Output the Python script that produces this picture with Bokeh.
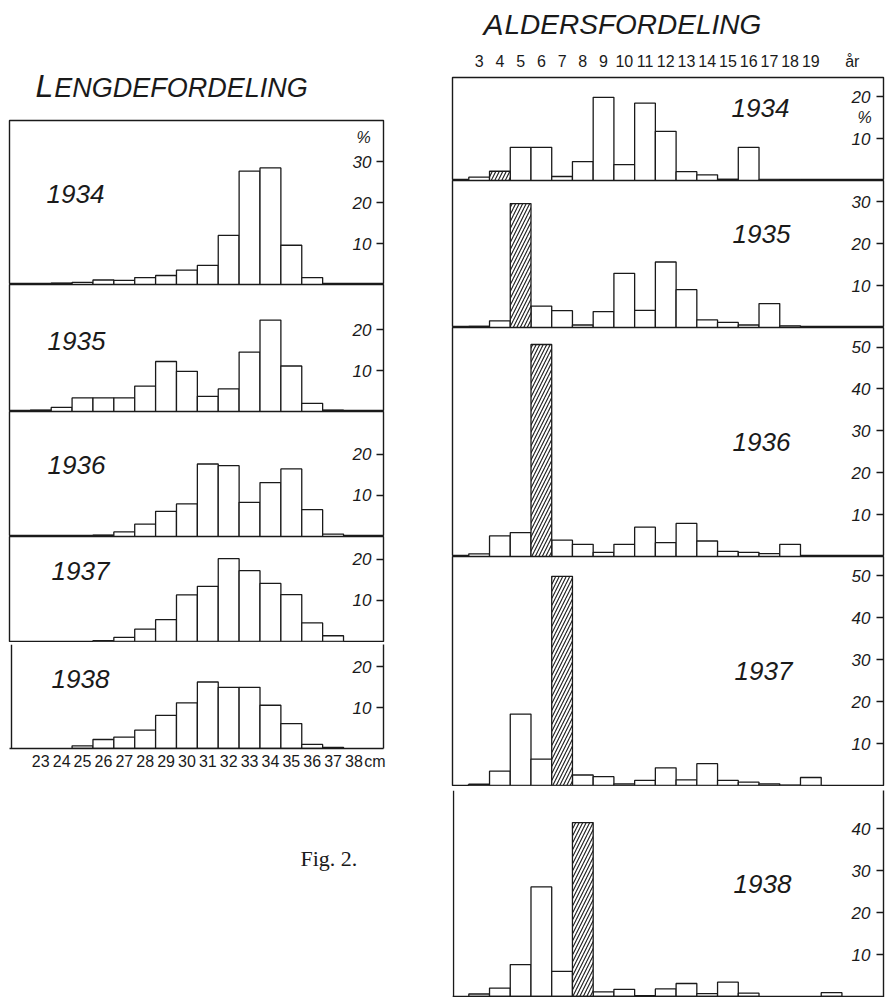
from bokeh.plotting import figure
from bokeh.layouts import column, row
from bokeh.models import Range1d, FixedTicker, LinearAxis, Span, ColumnDataSource
from bokeh.embed import file_html
from bokeh.resources import INLINE
from bokeh.core.properties import value

# ---------------- data (percent) ----------------
years = [1934, 1935, 1936, 1937, 1938]
year_class = 1930  # hatched bars: the strong 1930 year class

length_cm = list(range(23, 39))
length_1934 = [0.0, 0.3, 0.5, 1.1, 1.0, 1.7, 2.2, 3.5, 4.7, 12.0, 27.7, 28.5, 9.6, 1.7, 0.0, 0.0]
length_1935 = [0.3, 1.0, 3.3, 3.3, 3.3, 6.2, 12.2, 9.8, 3.7, 5.5, 14.5, 22.3, 11.1, 2.0, 0.3, 0.0]
length_1936 = [0.0, 0.0, 0.0, 0.3, 1.1, 3.0, 6.1, 7.9, 17.6, 17.2, 8.3, 13.1, 16.4, 6.5, 0.6, 0.0]
length_1937 = [0.0, 0.0, 0.0, 0.2, 1.0, 3.0, 5.3, 11.3, 13.4, 20.1, 17.2, 14.1, 11.4, 4.5, 1.4, 0.0]
length_1938 = [0.0, 0.0, 0.65, 2.2, 2.8, 4.5, 8.1, 11.2, 16.3, 15.0, 15.0, 10.6, 6.1, 1.0, 0.3, 0.0]

age_years = list(range(3, 21))
age_1934 = [0.8, 2.2, 7.9, 7.9, 0.95, 4.5, 19.8, 3.8, 18.4, 11.7, 2.1, 1.35, 0.25, 7.9, 0.15, 0.2, 0.0, 0.0]
age_1935 = [0.25, 1.6, 29.5, 5.1, 4.0, 0.6, 3.8, 12.9, 4.1, 15.6, 9.0, 1.8, 1.2, 0.6, 5.7, 0.4, 0.0, 0.0]
age_1936 = [0.65, 4.9, 5.7, 50.6, 3.9, 2.9, 1.0, 2.9, 7.0, 3.3, 7.9, 3.7, 1.2, 1.0, 0.7, 2.9, 0.0, 0.0]
age_1937 = [0.3, 3.4, 17.0, 6.3, 49.8, 2.5, 2.1, 0.4, 1.2, 4.2, 1.35, 5.2, 1.2, 0.8, 0.4, 0.1, 1.9, 0.0]
age_1938 = [0.6, 2.0, 7.6, 26.1, 6.0, 41.4, 1.1, 1.7, 0.2, 1.8, 3.1, 0.7, 3.4, 0.8, 0.0, 0.0, 0.0, 0.9]

length_series = [length_1934, length_1935, length_1936, length_1937, length_1938]
age_series = [age_1934, age_1935, age_1936, age_1937, age_1938]

length_tick_values = list(range(23, 40))
length_tick_labels = [str(c) for c in range(23, 39)] + ["cm"]
age_tick_values = list(range(3, 20)) + [21]
age_tick_labels = [str(a) for a in range(3, 20)] + ["år"]
length_pct_ticks = [[10, 20, 30], [10, 20], [10, 20], [10, 20], [10, 20]]
age_pct_ticks = [[10, 20], [10, 20, 30], [10, 20, 30, 40, 50], [10, 20, 30, 40, 50], [10, 20, 30, 40]]

left_title = "LENGDEFORDELING"
right_title = "ALDERSFORDELING"
fig_caption = "Fig. 2."

# ---------------- styling / layout ----------------
INK = "#1a1a1a"
FONT = "Liberation Sans"

# page-pixel calibration of the two horizontal scales
def lx(px):          # left chart: page x -> cm
    return 23.5 + (px - 50.7) / 20.88

def ax(px):          # right chart: page x -> age
    return 2.5 + (px - 468.3) / 20.73

# frame extents (page px); Bokeh aligns frames within a column
L_X0, L_X1 = 9, 383
R_X0, R_X1 = 452, 883
LW, RW = 444, 448
RIGHT_COL_X = 444

left_geom = [
    dict(top=120, bottom=284, base=284, s=4.09, bt=1, bb=0),
    dict(top=284, bottom=411, base=411, s=4.10, bt=0, bb=0),
    dict(top=411, bottom=536, base=536, s=4.12, bt=0, bb=0),
    dict(top=536, bottom=641, base=641, s=4.12, bt=0, bb=1),
    dict(top=644, bottom=748, base=748, s=4.08, bt=2, bb=26),
]
right_geom = [
    dict(top=77, bottom=180, base=180, s=4.20, bt=32, bb=0),
    dict(top=180, bottom=327, base=327, s=4.20, bt=0, bb=0),
    dict(top=327, bottom=556, base=556, s=4.19, bt=0, bb=0),
    dict(top=556, bottom=785, base=785, s=4.20, bt=0, bb=1),
    dict(top=790, bottom=997, base=996, s=4.20, bt=4, bb=0),
]
left_year_pos = [(75, 193), (76, 340), (76, 464), (80, 570), (80, 678)]
right_year_pos = [(760, 107), (761, 233), (761, 441), (763, 670), (762, 883)]


def base_fig(w, h, xr, yr, bl=0, br=0, bt=0, bb=0):
    p = figure(width=w, height=h, output_backend="svg", toolbar_location=None,
               x_range=xr, y_range=yr, x_axis_location=None, y_axis_location=None,
               min_border_left=bl, min_border_right=br, min_border_top=bt, min_border_bottom=bb)
    p.xgrid.grid_line_color = None
    p.ygrid.grid_line_color = None
    p.background_fill_color = "white"
    p.border_fill_color = "white"
    p.outline_line_color = None
    return p


def text(p, x, y, t, size, style="italic", align="center", font=FONT):
    p.text(x=[x], y=[y], text=[t], text_font=value(font), text_font_size=size,
           text_font_style=style, text_align=align, text_baseline="middle", text_color=INK)


def small_caps_title(p, x, y_base, t, big, small, first_w):
    # both parts share a baseline; "middle" sits ~0.35 em above the baseline
    text(p, x, y_base - 0.35 * big, t[0], f"{big}px", align="left")
    text(p, x + first_w * big + 1, y_base - 0.35 * small, t[1:], f"{small}px", align="left")


def pct_axis(ticks, standoff, line):
    return LinearAxis(ticker=FixedTicker(ticks=ticks, minor_ticks=[]),
                      major_tick_in=7, major_tick_out=0, major_tick_line_color=INK,
                      major_tick_line_width=1.3, minor_tick_line_color=None,
                      axis_line_color=INK if line else None, axis_line_width=1.4,
                      major_label_standoff=standoff, major_label_text_font=FONT,
                      major_label_text_font_style="italic", major_label_text_font_size="17px",
                      major_label_text_color=INK)


def draw_bars(p, centers, vals, hatched_center):
    plain = [(c, v) for c, v in zip(centers, vals) if v > 0 and c != hatched_center]
    hat = [(c, v) for c, v in zip(centers, vals) if v > 0 and c == hatched_center]
    src = ColumnDataSource(dict(left=[c - 0.5 for c, _ in plain], right=[c + 0.5 for c, _ in plain],
                                top=[v for _, v in plain]))
    p.quad(left="left", right="right", bottom=0, top="top", source=src,
           fill_color="white", line_color=INK, line_width=1.3)
    if hat:
        hsrc = ColumnDataSource(dict(left=[c - 0.5 for c, _ in hat], right=[c + 0.5 for c, _ in hat],
                                     top=[v for _, v in hat]))
        p.quad(left="left", right="right", bottom=0, top="top", source=hsrc,
               fill_color="white", line_color=INK, line_width=1.3,
               hatch_pattern="/", hatch_color=INK, hatch_scale=7, hatch_weight=1.1)


# ---------------- left column: length distribution ----------------
left_children = []
hdrL = base_fig(LW, 119, Range1d(L_X0, L_X1), Range1d(119, 0), bl=L_X0, br=LW - L_X1)
small_caps_title(hdrL, 35, 97, left_title, 32, 27, 0.556)
left_children.append(hdrL)

for i, (yr, g) in enumerate(zip(years, left_geom)):
    last = i == len(years) - 1
    frame_h = g["bottom"] - g["top"]
    yr_rng = Range1d((g["base"] - g["bottom"]) / g["s"], (g["base"] - g["top"]) / g["s"])
    p = base_fig(LW, g["bt"] + frame_h + g["bb"], Range1d(lx(L_X0), lx(L_X1)), yr_rng,
                 bl=L_X0, br=LW - L_X1, bt=g["bt"], bb=g["bb"])
    if not last:
        p.outline_line_color = INK
        p.outline_line_width = 1.4
    draw_bars(p, length_cm, length_series[i], None)
    p.add_layout(pct_axis(length_pct_ticks[i], -31, last), "right")
    px, py = left_year_pos[i]
    text(p, lx(px), (g["base"] - py) / g["s"], str(yr), "26px")
    if i == 0:
        text(p, lx(363), (g["base"] - 137) / g["s"], "%", "16px")
    if last:
        p.add_layout(Span(location=lx(11), dimension="height", line_color=INK, line_width=1.4))
        bx = LinearAxis(ticker=FixedTicker(ticks=length_tick_values, minor_ticks=[]),
                        major_label_overrides=dict(zip(length_tick_values, length_tick_labels)),
                        major_tick_line_color=None, major_tick_in=0, major_tick_out=0,
                        minor_tick_line_color=None, axis_line_color=INK, axis_line_width=1.4,
                        major_label_standoff=4, major_label_text_font=FONT,
                        major_label_text_font_size="16px", major_label_text_color=INK)
        p.add_layout(bx, "below")
    left_children.append(p)

footL = base_fig(LW, 100, Range1d(L_X0, L_X1), Range1d(100, 0), bl=L_X0, br=LW - L_X1)
text(footL, 300, 84, fig_caption, "22px", style="normal", align="left", font="Liberation Serif")
left_children.append(footL)

# ---------------- right column: age distribution ----------------
right_children = []
rbl = R_X0 - RIGHT_COL_X
rbr = RIGHT_COL_X + RW - R_X1
hdrR = base_fig(RW, 45, Range1d(R_X0, R_X1), Range1d(45, 0), bl=rbl, br=rbr)
small_caps_title(hdrR, 483, 34, right_title, 30, 28, 0.667)
right_children.append(hdrR)

for i, (yr, g) in enumerate(zip(years, right_geom)):
    last = i == len(years) - 1
    frame_h = g["bottom"] - g["top"]
    yr_rng = Range1d((g["base"] - g["bottom"]) / g["s"], (g["base"] - g["top"]) / g["s"])
    p = base_fig(RW, g["bt"] + frame_h + g["bb"], Range1d(ax(R_X0), ax(R_X1)), yr_rng,
                 bl=rbl, br=rbr, bt=g["bt"], bb=g["bb"])
    if not last:
        p.outline_line_color = INK
        p.outline_line_width = 1.4
    draw_bars(p, age_years, age_series[i], yr - year_class)
    p.add_layout(pct_axis(age_pct_ticks[i], -32, last), "right")
    px, py = right_year_pos[i]
    text(p, ax(px), (g["base"] - py) / g["s"], str(yr), "26px")
    if i == 0:
        text(p, ax(864), (g["base"] - 117) / g["s"], "%", "16px")
        tx = LinearAxis(ticker=FixedTicker(ticks=age_tick_values, minor_ticks=[]),
                        major_label_overrides=dict(zip(age_tick_values, age_tick_labels)),
                        major_tick_line_color=None, major_tick_in=0, major_tick_out=0,
                        minor_tick_line_color=None, axis_line_color=None,
                        major_label_standoff=8, major_label_text_font=FONT,
                        major_label_text_font_size="16px", major_label_text_color=INK)
        p.add_layout(tx, "above")
    if last:
        p.add_layout(Span(location=ax(R_X0 + 1), dimension="height", line_color=INK, line_width=1.4))
        p.add_layout(Span(location=0, dimension="width", line_color=INK, line_width=1.4))
    right_children.append(p)

layout = row(column(*left_children, spacing=0), column(*right_children, spacing=0), spacing=0)

with open("out.html", "w") as f:
    f.write(file_html(layout, INLINE))
